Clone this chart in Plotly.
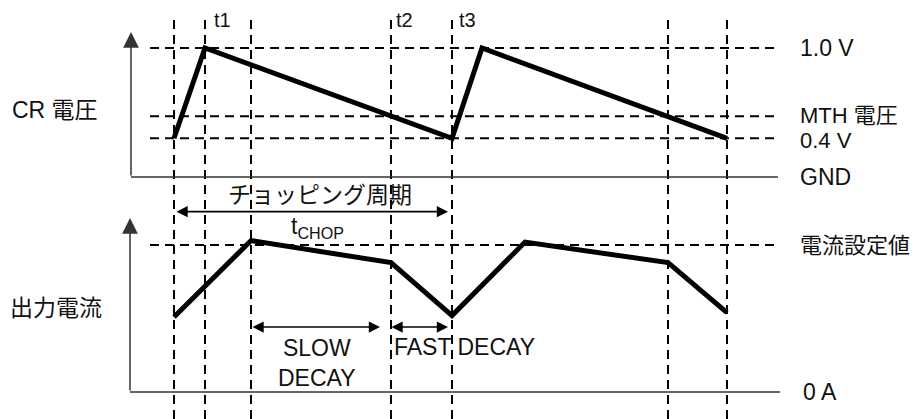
import plotly.graph_objects as go

# time markers (arbitrary time units, t=0 at the first marker)
t_marks = [0, 31, 77, 217, 278, 494, 553]

# CR voltage waveform (diagram units: GND=0, 1.0 V=1)
cr_t = [0, 31, 278, 308, 553]
cr_level = [0.30, 1.0, 0.30, 1.0, 0.30]
cr_ref_levels = [1.0, 0.47, 0.30]
cr_ref_labels = ["1.0 V", "MTH 電圧", "0.4 V"]

# output current waveform (diagram units: 0 A=0, set value=1)
cur_t = [0, 77, 217, 278, 351, 494, 553]
cur_level = [0.51, 1.03, 0.88, 0.52, 1.02, 0.88, 0.54]

FONT = "Liberation Sans, Arial, Noto Sans CJK JP"
PAGE_W, PAGE_H = 919, 419
OFF = 8  # browser body margin
W, H = PAGE_W - OFF, PAGE_H - OFF
X0 = 174  # page pixel of t=0


def y_range(px_zero, px_one):
    # full-height axis range so that 0 -> px_zero and 1 -> px_one (page pixels)
    z, o = px_zero - OFF, px_one - OFF
    k = z - o
    return [(z - H) / k, z / k]


fig = go.Figure()
fig.add_trace(go.Scatter(x=cr_t, y=cr_level, mode="lines",
                         line=dict(color="black", width=5), yaxis="y"))
fig.add_trace(go.Scatter(x=cur_t, y=cur_level, mode="lines",
                         line=dict(color="black", width=5), yaxis="y2"))

dash = dict(color="black", width=2, dash="9px,6px")
shapes = []
for t in t_marks:
    shapes.append(dict(type="line", xref="x", yref="paper", x0=t, x1=t,
                       y0=0, y1=1 - (20 - OFF) / H, line=dash, layer="below"))
for lv in cr_ref_levels:
    shapes.append(dict(type="line", xref="x", yref="y", x0=-24, x1=604,
                       y0=lv, y1=lv, line=dash, layer="below"))
shapes.append(dict(type="line", xref="x", yref="y2", x0=-24, x1=604,
                   y0=1, y1=1, line=dash, layer="below"))
# baselines
shapes.append(dict(type="line", xref="x", yref="y", x0=-43, x1=604, y0=0, y1=0,
                   line=dict(color="#333333", width=1.5)))
shapes.append(dict(type="line", xref="x", yref="y2", x0=-44, x1=606, y0=0, y1=0,
                   line=dict(color="#333333", width=1.5)))

ann = []


def arrow(x, y, ax, ay, yref, width, size, color, both=False):
    ann.append(dict(x=x, y=y, ax=ax, ay=ay, xref="x", yref=yref, axref="x",
                    ayref=yref, showarrow=True, arrowhead=2, arrowsize=size,
                    arrowwidth=width, arrowcolor=color, standoff=0,
                    startstandoff=0, startarrowhead=2, startarrowsize=size,
                    arrowside="end+start" if both else "end", text=""))


# vertical axes with arrows
arrow(-43, 1.124, -43, 0, "y", 1.5, 2.1, "#333333")
arrow(-44, 1.184, -44, 0, "y2", 1.5, 2.1, "#333333")
# period / decay arrows
arrow(274, 1.227, 1, 1.227, "y2", 1.6, 1.4, "black", both=True)
arrow(206, 0.442, 77, 0.442, "y2", 1.6, 1.4, "black", both=True)
arrow(274, 0.442, 216, 0.442, "y2", 1.6, 1.4, "black", both=True)


def label(text, x, y, yref, xanchor="left", size=23, yanchor="middle"):
    ann.append(dict(text=text, x=x, y=y, xref="x", yref=yref, showarrow=False,
                    xanchor=xanchor, yanchor=yanchor, borderpad=0,
                    font=dict(family=FONT, size=size, color="#111111")))


for t, txt in zip([39, 221, 284], ["t1", "t2", "t3"]):
    label(txt, t, 1, "paper", size=20, yanchor="top")
label("1.0 V", 625, 1.0, "y")
label("MTH 電圧", 625, 0.48, "y", size=22)
label("0.4 V", 625, 0.28, "y", size=22)
label("GND", 625, 0, "y")
label("電流設定値", 625, 1, "y2", size=22)
label("0 A", 628, 0, "y2")
label("CR 電圧", 11 - X0, 0.519, "y")
label("出力電流", 9 - X0, 0.571, "y2")
label("チョッピング周期", 146, 1.34, "y2", xanchor="center")
label("t<sub>CHOP</sub>", 143, 1.116, "y2", xanchor="center")
label("SLOW<br>DECAY", 143, 0.197, "y2", xanchor="center")
label("FAST DECAY", 219, 0.306, "y2")

fig.update_layout(
    width=W, height=H, margin=dict(l=0, r=0, t=0, b=0),
    paper_bgcolor="white", plot_bgcolor="white", showlegend=False,
    xaxis=dict(range=[OFF - X0, PAGE_W - X0], visible=False, fixedrange=True),
    yaxis=dict(range=y_range(177, 48), visible=False, fixedrange=True),
    yaxis2=dict(range=y_range(392, 245), visible=False, overlaying="y",
                fixedrange=True),
    shapes=shapes, annotations=ann,
)

fig.write_html("out.html")
